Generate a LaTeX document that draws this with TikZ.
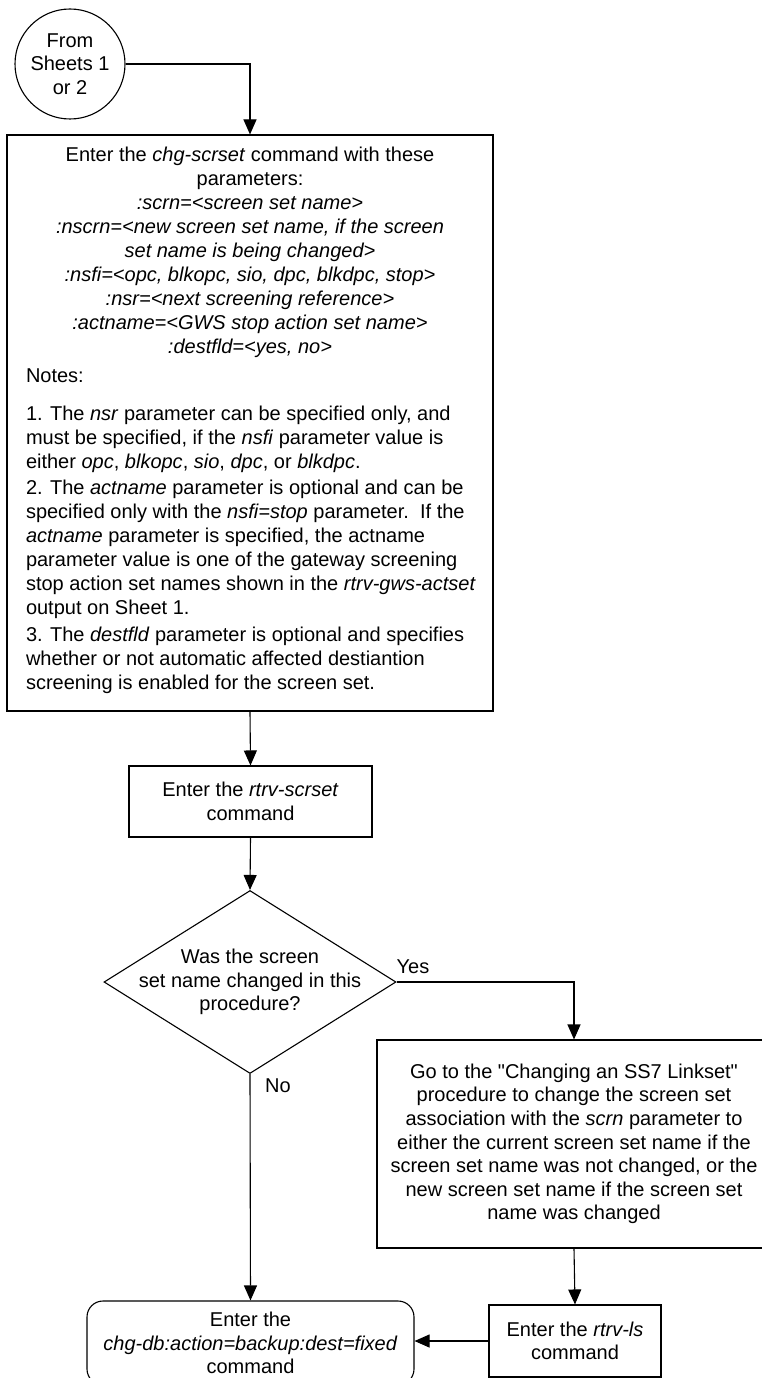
\documentclass[tikz,border=0pt]{standalone}
\usepackage{fontspec}
\setmainfont{Liberation Sans}[Ligatures=TeXOff]
\usetikzlibrary{arrows.meta,shapes.geometric}
\begin{document}
\begin{tikzpicture}[x=1pt,y=-1pt,
  every node/.style={font=\fontsize{20}{23.6}\selectfont},
  conn/.style={line width=1.1pt,-{Triangle[length=15pt,width=13pt]}},
  boxst/.style={draw,line width=1.1pt,rectangle,align=center,inner sep=0pt},
  termst/.style={draw,line width=1.1pt,rectangle,rounded corners=16pt,align=center,inner sep=0pt},
  decst/.style={draw,line width=1.1pt,diamond,inner sep=0pt},
  conncirc/.style={draw,line width=1.1pt,circle,align=center,inner sep=0pt},
  lbl/.style={inner sep=0pt,align=center}
]
\useasboundingbox (0,0) rectangle (762,1378);

\node[conncirc,minimum size=110pt] (from) at (70,64) {From\\Sheets 1\\or 2};

\node[boxst,minimum width=486pt,minimum height=576pt] (big) at (250,423)
{\parbox[c][552pt][t]{456pt}{\fontsize{20}{24}\selectfont\centering
Enter the \textit{chg-scrset} command with these\\
parameters:\\
\textit{:scrn=<screen set name>}\\
\textit{:nscrn=<new screen set name, if the screen}\\
\textit{set name is being changed>}\\
\textit{:nsfi=<opc, blkopc, sio, dpc, blkdpc, stop>}\\
\textit{:nsr=<next screening reference>}\\
\textit{:actname=<GWS stop action set name>}\\
\textit{:destfld=<yes, no>}\par
\raggedright\leftskip=4pt
\vspace{5pt}Notes:\par
\vspace{14pt}1. The \textit{nsr} parameter can be specified only, and\\
must be specified, if the \textit{nsfi} parameter value is\\
either \textit{opc}, \textit{blkopc}, \textit{sio}, \textit{dpc}, or \textit{blkdpc}.\par
\vspace{2pt}2. The \textit{actname} parameter is optional and can be\\
specified only with the \textit{nsfi=stop} parameter.\ \ If the\\
\textit{actname} parameter is specified, the actname\\
parameter value is one of the gateway screening\\
stop action set names shown in the \textit{rtrv-gws-actset}\\
output on Sheet 1.\par
\vspace{3pt}3. The \textit{destfld} parameter is optional and specifies\\
whether or not automatic affected destiantion\\
screening is enabled for the screen set.\par}};

\node[boxst,minimum width=243pt,minimum height=71pt] (scr) at (250.5,801.5)
{Enter the \textit{rtrv-scrset}\\command};

\node[decst,minimum width=292pt,minimum height=183pt] (dec) at (250,982) {};
\node[lbl] (dectext) at (dec.center) {Was the screen\\set name changed in this\\procedure?};

\node[boxst,minimum width=394pt,minimum height=208pt] (go) at (574,1144)
{Go to the "Changing an SS7 Linkset"\\
procedure to change the screen set\\
association with the \textit{scrn} parameter to\\
either the current screen set name if the\\
screen set name was not changed, or the\\
new screen set name if the screen set\\
name was changed};

\node[boxst,minimum width=172pt,minimum height=72pt] (ls) at (575,1341)
{Enter the \textit{rtrv-ls}\\command};

\node[termst,minimum width=327pt,minimum height=84pt] (db) at (250.5,1343)
{Enter the\\\textit{chg-db:action=backup:dest=fixed}\\command};

\node[lbl] (yes) at (413,967) {Yes};
\node[lbl] (no) at (278,1086) {No};

\draw[conn] (from.east) -| (big.north);
\draw[conn] (big.south) -- (scr.north);
\draw[conn] (scr.south) -- (dec.north);
\draw[conn] (dec.east) -| (go.north);
\draw[conn] (dec.south) -- (db.north);
\draw[conn] (go.south) -- (ls.north);
\draw[conn] (ls.west) -- (ls.west -| db.east);
\end{tikzpicture}
\end{document}
